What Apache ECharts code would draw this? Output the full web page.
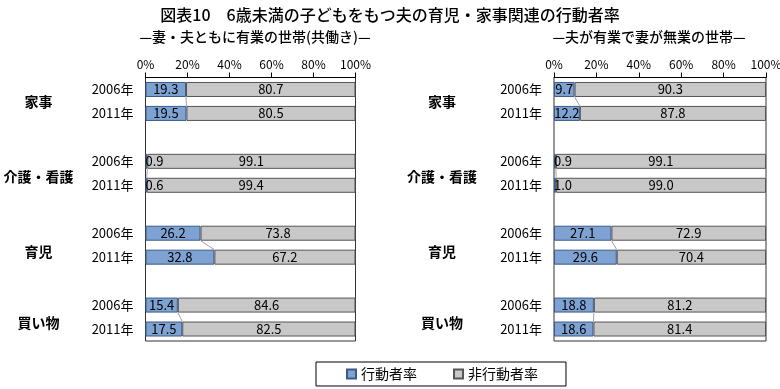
<!DOCTYPE html>
<html>
<head>
<meta charset="utf-8">
<script src="https://cdn.jsdelivr.net/npm/echarts@6/dist/echarts.min.js"></script>
<style>html,body{margin:0;padding:0;background:#fff;}#c{width:780px;height:389px;}</style>
</head>
<body>
<div id="c"></div>
<script>
// ---- data ----
const rowLabels = ['2006年','2011年','','2006年','2011年','','2006年','2011年','','2006年','2011年'];
const groupLabels = ['','家事','','','介護・看護','','','育児','','','買い物',''];
const filledRows = [0,1,3,4,6,7,9,10];
const xTicks = [0,20,40,60,80,100];
const seriesNames = ['行動者率','非行動者率'];
const titleMain = '図表10　6歳未満の子どもをもつ夫の育児・家事関連の行動者率';
const panelTitles = ['—妻・夫ともに有業の世帯(共働き)—','—夫が有業で妻が無業の世帯—'];
// 共働き
const leftActive = [19.3,19.5,0.9,0.6,26.2,32.8,15.4,17.5];
const leftNon    = [80.7,80.5,99.1,99.4,73.8,67.2,84.6,82.5];
// 妻が無業
const rightActive = [9.7,12.2,0.9,1.0,27.1,29.6,18.8,18.6];
const rightNon    = [90.3,87.8,99.1,99.0,72.9,70.4,81.2,81.4];

// ---- styling helpers ----
const FONT = "'Noto Sans CJK JP', sans-serif";
const BLUE = '#7ea2d2', GREY = '#c8c8c8';
const BAR_H = 15;
// vertical nudge (spacer line height) for the group labels, by category index
const groupLabelSpacer = { 4: 7, 7: 13, 10: 12 };

function toRows(vals, small) {
  const out = rowLabels.map(() => '-');
  vals.forEach((v, i) => {
    out[filledRows[i]] = small && v < 3
      ? { value: v, label: { position: 'insideLeft', distance: 0 } }
      : v;
  });
  return out;
}
function pairs(vals) {
  const p = [];
  for (let i = 0; i < vals.length; i += 2) p.push([vals[i], vals[i + 1], filledRows[i]]);
  return p;
}
const fmt1 = p => Number(p.value).toFixed(1);
const grids = [
  { left: 145.5, top: 77.5, width: 210, height: 263.5 },
  { left: 554, top: 77.5, width: 212, height: 263.5 }
];
const margins = [107, 112];

const rich = { g: { fontSize: 14, fontWeight: 'bold', color: '#000', fontFamily: FONT, lineHeight: 20 } };
Object.keys(groupLabelSpacer).forEach(k => {
  rich['s' + k] = { fontSize: 1, lineHeight: groupLabelSpacer[k] };
});
function groupFormatter(value, index) {
  if (!value) return '';
  const sp = groupLabelSpacer[index];
  return sp ? '{s' + index + '| }\n{g|' + value + '}' : '{g|' + value + '}';
}

const option = {
  animation: false,
  textStyle: { fontFamily: FONT },
  title: [
    { text: titleMain, left: 'center', top: 2, textStyle: { fontFamily: FONT, fontSize: 16, fontWeight: 500, color: '#000' } },
    { text: panelTitles[0], left: 250, textAlign: 'center', top: 25, textStyle: { fontFamily: FONT, fontSize: 14, fontWeight: 500, color: '#000' } },
    { text: panelTitles[1], left: 644, textAlign: 'center', top: 25, textStyle: { fontFamily: FONT, fontSize: 14, fontWeight: 500, color: '#000' } }
  ],
  legend: {
    data: seriesNames,
    left: 316, top: 362,
    padding: [5, 28, 5, 30],
    itemGap: 36, itemWidth: 9, itemHeight: 9,
    icon: 'rect',
    borderColor: '#000', borderWidth: 1,
    textStyle: { fontFamily: FONT, fontSize: 14, color: '#000' }
  },
  grid: grids.map(g => Object.assign({ show: true, borderColor: '#333', borderWidth: 1, backgroundColor: 'transparent', containLabel: false, outerBoundsMode: 'none' }, g)),
  xAxis: [0, 1].map(i => ({
    gridIndex: i, type: 'value', position: 'top', min: xTicks[0], max: xTicks[xTicks.length - 1], interval: xTicks[1] - xTicks[0],
    axisLine: { show: true, lineStyle: { color: '#000', width: 1 } },
    axisTick: { show: true, length: 5, lineStyle: { color: '#000' } },
    splitLine: { show: false },
    axisLabel: { formatter: '{value}%', fontSize: 12, color: '#000', margin: 7, fontFamily: FONT }
  })),
  yAxis: [],
  series: []
};

[0, 1].forEach(i => {
  option.yAxis.push({
    gridIndex: i, type: 'category', data: rowLabels, inverse: true, position: 'left',
    axisLine: { show: false }, axisTick: { show: false },
    axisLabel: { fontSize: 13, color: '#000', margin: 12, interval: 0, fontFamily: FONT }
  });
  option.yAxis.push({
    gridIndex: i, type: 'category', data: groupLabels, inverse: true, position: 'left', boundaryGap: false,
    axisLine: { show: false }, axisTick: { show: false },
    axisLabel: { formatter: groupFormatter, rich: rich, margin: margins[i], align: 'center', interval: 0 }
  });
});

const panels = [[leftActive, leftNon], [rightActive, rightNon]];
panels.forEach(([act, non], i) => {
  const yIdx = i * 2;
  option.series.push({
    name: seriesNames[0], type: 'bar', stack: 's' + i, xAxisIndex: i, yAxisIndex: yIdx,
    barWidth: BAR_H, data: toRows(act, true),
    itemStyle: { color: BLUE, borderColor: '#3a5a88', borderWidth: 1 },
    label: { show: true, position: 'inside', color: '#000', fontSize: 13, fontFamily: FONT, formatter: fmt1 }
  });
  option.series.push({
    name: seriesNames[1], type: 'bar', stack: 's' + i, xAxisIndex: i, yAxisIndex: yIdx,
    barWidth: BAR_H, data: toRows(non, false),
    itemStyle: { color: GREY, borderColor: '#555', borderWidth: 1 },
    label: { show: true, position: 'inside', color: '#000', fontSize: 13, fontFamily: FONT, formatter: fmt1 }
  });
  option.series.push({
    type: 'custom', xAxisIndex: i, yAxisIndex: yIdx, z: 1,
    data: pairs(act), encode: { x: [0, 1], y: 2 },
    renderItem: function (params, api) {
      const a = api.coord([api.value(0), api.value(2)]);
      const b = api.coord([api.value(1), api.value(2) + 1]);
      return { type: 'line', shape: { x1: a[0], y1: a[1] + BAR_H / 2, x2: b[0], y2: b[1] - BAR_H / 2 },
               style: { stroke: '#888', lineWidth: 0.8 } };
    }
  });
});

const chart = echarts.init(document.getElementById('c'), null, { renderer: 'canvas' });
chart.setOption(option);
</script>
</body>
</html>
